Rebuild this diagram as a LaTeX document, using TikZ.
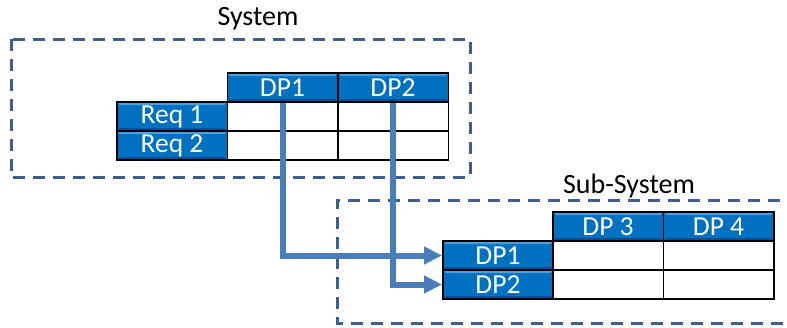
\documentclass[tikz,border=0pt]{standalone}
\usepackage{fontspec}
\setmainfont{Carlito}
\usetikzlibrary{arrows.meta}
\definecolor{cellblue}{RGB}{0,112,192}
\definecolor{cellhi}{RGB}{70,160,225}
\definecolor{celllo}{RGB}{0,78,150}
\definecolor{flowblue}{RGB}{74,126,187}
\definecolor{framecol}{RGB}{62,94,142}
\tikzset{
  cellbase/.style={rectangle, draw=black, line width=1.5pt,
    minimum width=110.5pt, minimum height=29pt, inner sep=0pt,
    font=\fontsize{27.5}{27.5}\selectfont, anchor=center},
  bluecell/.style={cellbase, fill=cellblue, text=white,
    path picture={
      \fill[cellhi] (path picture bounding box.north west)
        -- (path picture bounding box.north east)
        -- ([xshift=-3pt,yshift=-3pt]path picture bounding box.north east)
        -- ([xshift=3pt,yshift=-3pt]path picture bounding box.north west) -- cycle;
      \fill[celllo] (path picture bounding box.south west)
        -- (path picture bounding box.south east)
        -- ([xshift=-3pt,yshift=3pt]path picture bounding box.south east)
        -- ([xshift=3pt,yshift=3pt]path picture bounding box.south west) -- cycle;
    }},
  whitecell/.style={cellbase, fill=white},
  framebox/.style={draw=framecol, line width=3pt, dash pattern=on 12pt off 8pt},
  framelabel/.style={font=\fontsize{28}{28}\selectfont, inner sep=0pt},
  flow/.style={draw=flowblue, line width=6pt,
    -{Triangle[length=18pt,width=17pt]}}
}
\begin{document}
\begin{tikzpicture}[x=1pt,y=-1pt]
\useasboundingbox[fill=white] (0,0) rectangle (787,327);

% system frame and label
\draw[framebox] (11,39) rectangle (470,177);
\node[framelabel] (syslabel) at (258,19) {System};

% sub-system frame, open on the right
\draw[framebox] (800,200) -- (337,200) -- (337,323) -- (800,323);
\node[framelabel] (sublabel) at (629,186) {Sub-System};

% system matrix
\node[bluecell]  (dpa)  at (282.5,87.5)  {DP1};
\node[bluecell]  (dpb)  at (393,87.5)    {DP2};
\node[bluecell]  (reqa) at (172,116.5)   {Req 1};
\node[bluecell]  (reqb) at (172,145.5)   {Req 2};
\node[whitecell] (c11)  at (282.5,116.5) {};
\node[whitecell] (c12)  at (393,116.5)   {};
\node[whitecell] (c21)  at (282.5,145.5) {};
\node[whitecell] (c22)  at (393,145.5)   {};

% sub-system matrix
\node[bluecell]  (dpc)  at (608,226.5)   {DP 3};
\node[bluecell]  (dpd)  at (718.5,226.5) {DP 4};
\node[bluecell]  (sdpa) at (498,255.5)   {DP1};
\node[bluecell]  (sdpb) at (498,284.5)   {DP2};
\node[whitecell] (s11)  at (608,255.5)   {};
\node[whitecell] (s12)  at (718.5,255.5) {};
\node[whitecell] (s21)  at (608,284.5)   {};
\node[whitecell] (s22)  at (718.5,284.5) {};

% design parameters passed down to the sub-system
\draw[flow] (dpa.south) |- (sdpa.west);
\draw[flow] (dpb.south) |- (sdpb.west);
\end{tikzpicture}
\end{document}
